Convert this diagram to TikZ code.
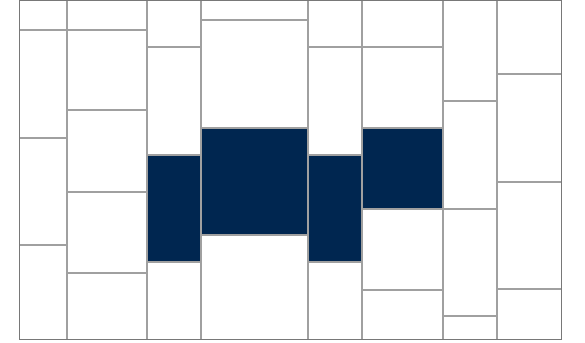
\documentclass[tikz,border=0pt]{standalone}
\usepackage{xcolor}
\definecolor{tilenavy}{RGB}{0, 38, 80}
\definecolor{jointgray}{RGB}{160, 160, 160}
\definecolor{edgegray}{RGB}{120, 120, 120}
\tikzset{
  joint/.style={jointgray, line width=2.5pt},
  darktile/.style={fill=tilenavy}
}

\begin{document}
\begin{tikzpicture}[x=1pt, y=-1pt]
  \useasboundingbox (0,0) rectangle (585,342);

  % background
  \fill[white] (19,1) rectangle (561,339);

  % dark tiles
  \fill[darktile] (147,155) rectangle (201,262);
  \fill[darktile] (201,128) rectangle (308,235);
  \fill[darktile] (308,155) rectangle (362,262);
  \fill[darktile] (362,128) rectangle (443,209);

  % vertical joints
  \foreach \x in {67,147,201,308,362,443,497}
    \draw[joint] (\x,1) -- (\x,339);

  % horizontal joints, column by column
  \foreach \xa/\xb/\ys in {19/67/{30,138,245},
                           67/147/{30,110,192,273},
                           147/201/{47,155,262},
                           201/308/{20,128,235},
                           308/362/{47,155,262},
                           362/443/{47,128,209,290},
                           443/497/{101,209,316},
                           497/561/{74,182,289}}
  {
    \foreach \y in \ys
      \draw[joint] (\xa,\y) -- (\xb,\y);
  }

  % outer border
  \draw[edgegray, line width=1pt] (19,1) rectangle (561,339);
\end{tikzpicture}
\end{document}
